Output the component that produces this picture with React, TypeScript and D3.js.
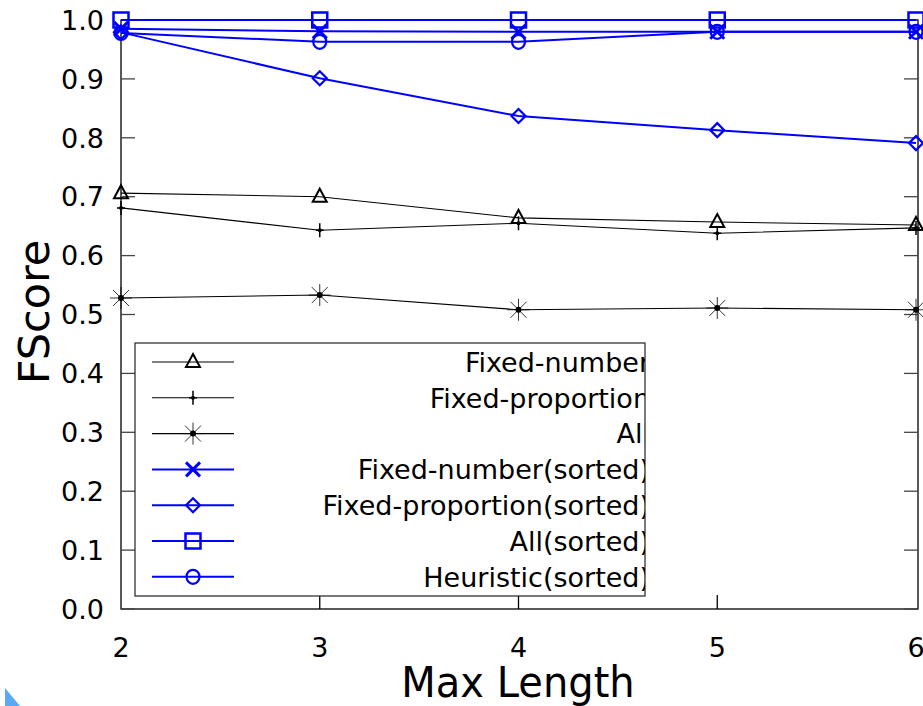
import React, { useEffect, useRef } from 'react';
import * as d3 from 'd3';

// max length on the x axis
const maxLengths = [2, 3, 4, 5, 6];

// FScore per series
const fixedNumber = [0.706, 0.7, 0.664, 0.657, 0.652];
const fixedProportion = [0.681, 0.643, 0.655, 0.638, 0.647];
const allPlain = [0.528, 0.533, 0.508, 0.511, 0.508];
const fixedNumberSorted = [0.985, 0.981, 0.98, 0.98, 0.98];
const fixedProportionSorted = [0.979, 0.901, 0.837, 0.813, 0.791];
const allSorted = [1.0, 1.0, 1.0, 1.0, 1.0];
const heuristicSorted = [0.978, 0.963, 0.963, 0.98, 0.98];

const yTicks = [0, 0.1, 0.2, 0.3, 0.4, 0.5, 0.6, 0.7, 0.8, 0.9, 1.0];

const seriesNames = [
  'Fixed-number',
  'Fixed-proportion',
  'All',
  'Fixed-number(sorted)',
  'Fixed-proportion(sorted)',
  'All(sorted)',
  'Heuristic(sorted)',
];

const BLUE = '#0000ff';

const series = [
  { name: seriesNames[0], values: fixedNumber, color: '#000', marker: 'triangle', width: 1.1 },
  { name: seriesNames[1], values: fixedProportion, color: '#000', marker: 'plus', width: 1.1 },
  { name: seriesNames[2], values: allPlain, color: '#000', marker: 'star', width: 1.1 },
  { name: seriesNames[3], values: fixedNumberSorted, color: BLUE, marker: 'cross', width: 2 },
  { name: seriesNames[4], values: fixedProportionSorted, color: BLUE, marker: 'diamond', width: 2 },
  { name: seriesNames[5], values: allSorted, color: BLUE, marker: 'square', width: 2 },
  { name: seriesNames[6], values: heuristicSorted, color: BLUE, marker: 'circle', width: 2 },
];

const FONT = '"DejaVu Sans", sans-serif';

function drawMarker(g: any, kind: string, x: number, y: number, color: string) {
  const m = g.append('g').attr('transform', `translate(${x},${y})`);
  if (kind === 'triangle') {
    m.append('path').attr('d', 'M0,-8L7,5L-7,5Z').attr('fill', 'none').attr('stroke', color).attr('stroke-width', 2);
  } else if (kind === 'plus') {
    m.append('path').attr('d', 'M0,-7V7M-4,0H4').attr('stroke', color).attr('stroke-width', 1.5);
    m.append('circle').attr('r', 2).attr('fill', color);
  } else if (kind === 'star') {
    m.append('path')
      .attr('d', 'M0,-11V11M-11,0H11M-8,-8L8,8M-8,8L8,-8')
      .attr('stroke', color)
      .attr('stroke-width', 0.8);
    m.append('circle').attr('r', 3).attr('fill', color);
  } else if (kind === 'cross') {
    m.append('path').attr('d', 'M-7,-7L7,7M-7,7L7,-7').attr('stroke', color).attr('stroke-width', 3);
  } else if (kind === 'diamond') {
    m.append('path').attr('d', 'M0,-7L7,0L0,7L-7,0Z').attr('fill', 'none').attr('stroke', color).attr('stroke-width', 2.2);
  } else if (kind === 'square') {
    m.append('rect').attr('x', -7.5).attr('y', -7.5).attr('width', 15).attr('height', 15)
      .attr('fill', 'none').attr('stroke', color).attr('stroke-width', 2.5);
  } else if (kind === 'circle') {
    m.append('ellipse').attr('rx', 6.5).attr('ry', 7).attr('fill', 'none').attr('stroke', color).attr('stroke-width', 2.2);
  }
}

export default function App() {
  const svgRef = useRef<SVGSVGElement>(null);

  useEffect(() => {
    const width = 923;
    const height = 706;
    const left = 121, right = 918, top = 20, bottom = 609;

    const svg = d3.select(svgRef.current).attr('width', width).attr('height', height);
    svg.selectAll('*').remove();
    svg.append('rect').attr('width', width).attr('height', height).attr('fill', '#fff');

    const x = d3.scaleLinear().domain([2, 6]).range([left, right - 2]);
    const y = d3.scaleLinear().domain([0, 1]).range([bottom, top]);

    // frame and ticks
    const axis = svg.append('g').attr('stroke', '#000').attr('stroke-width', 1.3);
    axis.append('rect').attr('x', left).attr('y', top).attr('width', right - left).attr('height', bottom - top).attr('fill', 'none');
    yTicks.forEach(t => {
      axis.append('line').attr('x1', left).attr('x2', left + 14).attr('y1', y(t)).attr('y2', y(t)).attr('stroke', '#444');
      axis.append('line').attr('x1', right - 14).attr('x2', right).attr('y1', y(t)).attr('y2', y(t)).attr('stroke', '#444');
    });
    maxLengths.slice(1, -1).forEach(t => {
      axis.append('line').attr('x1', x(t)).attr('x2', x(t)).attr('y1', bottom).attr('y2', bottom - 14);
    });

    // tick labels
    svg.append('g')
      .selectAll('text')
      .data(yTicks)
      .join('text')
      .attr('x', 104)
      .attr('y', d => y(d))
      .attr('dy', '0.36em')
      .attr('text-anchor', 'end')
      .attr('font-family', FONT)
      .attr('font-size', 27)
      .text(d => d.toFixed(1));

    svg.append('g')
      .selectAll('text')
      .data(maxLengths)
      .join('text')
      .attr('x', d => x(d))
      .attr('y', 647)
      .attr('dy', '0.36em')
      .attr('text-anchor', 'middle')
      .attr('font-family', FONT)
      .attr('font-size', 27)
      .text(d => d);

    svg.append('text')
      .attr('transform', 'translate(49,312) rotate(-90)')
      .attr('text-anchor', 'middle')
      .attr('font-family', FONT)
      .attr('font-size', 43)
      .text('FScore');

    svg.append('text')
      .attr('transform', 'translate(518,697) scale(1,1.08)')
      .attr('text-anchor', 'middle')
      .attr('font-family', FONT)
      .attr('font-size', 40)
      .text('Max Length');

    // series
    const line = d3.line<number>().x((_, i) => x(maxLengths[i])).y(d => y(d));
    const plot = svg.append('g');
    series.forEach(s => {
      plot.append('path')
        .attr('d', line(s.values))
        .attr('fill', 'none')
        .attr('stroke', s.color)
        .attr('stroke-width', s.width);
      s.values.forEach((v, i) => drawMarker(plot, s.marker, x(maxLengths[i]), y(v), s.color));
    });

    // legend, texts run past the right border and are cut there
    const lgLeft = 135, lgTop = 343, lgW = 510, lgH = 253;
    svg.append('clipPath').attr('id', 'legend-clip')
      .append('rect').attr('x', lgLeft).attr('y', lgTop).attr('width', lgW).attr('height', lgH);
    const lg = svg.append('g');
    lg.append('rect').attr('x', lgLeft).attr('y', lgTop).attr('width', lgW).attr('height', lgH)
      .attr('fill', '#fff').attr('stroke', '#222').attr('stroke-width', 1.2);
    const lgText = lg.append('g').attr('clip-path', 'url(#legend-clip)');
    series.forEach((s, i) => {
      const ly = 362 + i * 35.8;
      lg.append('line').attr('x1', 152).attr('x2', 234).attr('y1', ly).attr('y2', ly)
        .attr('stroke', s.color).attr('stroke-width', s.width);
      drawMarker(lg, s.marker, 193, ly, s.color);
      lgText.append('text')
        .attr('x', 650)
        .attr('y', ly)
        .attr('dy', '0.36em')
        .attr('text-anchor', 'end')
        .attr('font-family', FONT)
        .attr('font-size', 27)
        .text(s.name);
    });

    // light blue corner fragment bottom-left
    svg.append('path').attr('d', 'M5,688L20,706L5,706Z').attr('fill', '#5aaaf2');
  }, []);

  return (
    <div style={{ position: 'absolute', left: 0, top: 0 }}>
      <svg ref={svgRef} style={{ display: 'block' }}></svg>
    </div>
  );
}
